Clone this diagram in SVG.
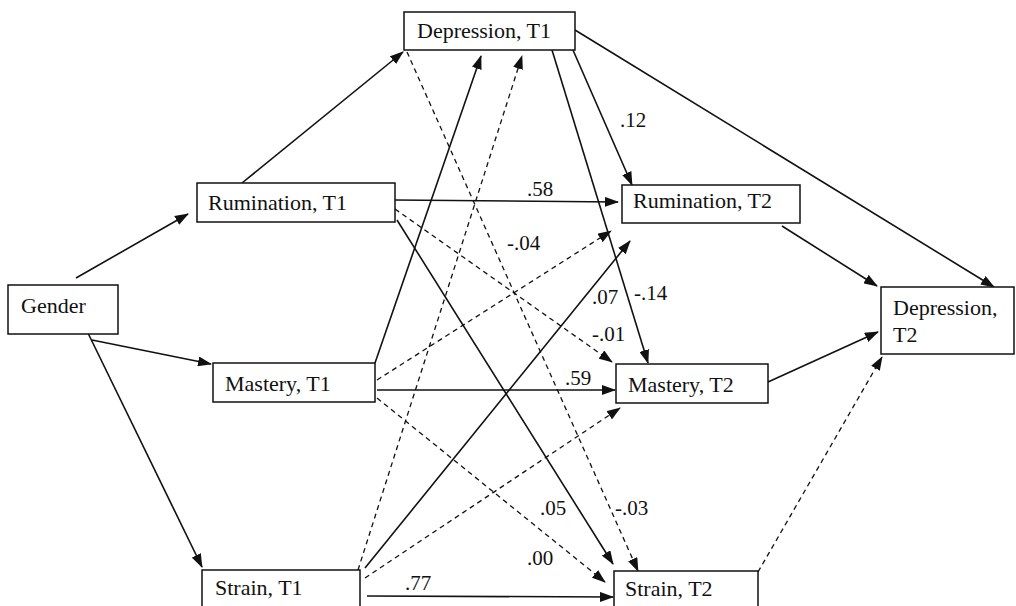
<svg xmlns="http://www.w3.org/2000/svg" width="1016" height="606" viewBox="0 0 1016 606">
<style>
.box{fill:#fff;stroke:#111;stroke-width:1.5}
.t{font-family:"Liberation Serif","Times New Roman",serif;font-size:22px;fill:#111}
.lb{font-family:"Liberation Serif","Times New Roman",serif;font-size:21px;fill:#111}
.s{fill:none;stroke:#111;stroke-width:1.6;marker-end:url(#ah)}
.d{fill:none;stroke:#111;stroke-width:1.3;stroke-dasharray:5,4;marker-end:url(#ah)}
</style>
<defs>
<marker id="ah" markerUnits="userSpaceOnUse" markerWidth="14" markerHeight="10" refX="13" refY="5" orient="auto">
<path d="M0,0 L14,5 L0,10 z" fill="#111"/>
</marker>
</defs>
<rect width="1016" height="606" fill="#fff"/>
<g id="connectors">
<line class="s" x1="76" y1="278" x2="188" y2="214"/>
<line class="s" x1="92" y1="340" x2="211" y2="364"/>
<line class="s" x1="87" y1="331" x2="202" y2="567"/>
<line class="s" x1="242" y1="183" x2="403" y2="52"/>
<line class="s" x1="575" y1="30" x2="994" y2="287"/>
<line class="s" x1="573" y1="50" x2="632" y2="185"/>
<line class="s" x1="552" y1="50" x2="648" y2="363"/>
<line class="d" x1="407" y1="52" x2="638" y2="571"/>
<line class="s" x1="375" y1="363" x2="481" y2="56"/>
<line class="d" x1="358" y1="570" x2="522" y2="56"/>
<line class="s" x1="395" y1="200" x2="618" y2="202"/>
<line class="d" x1="395" y1="209" x2="612" y2="362"/>
<line class="s" x1="397" y1="220" x2="613" y2="564"/>
<line class="d" x1="377" y1="380" x2="611" y2="231"/>
<line class="s" x1="365" y1="568" x2="630" y2="241"/>
<line class="s" x1="377" y1="390" x2="615" y2="390"/>
<line class="d" x1="377" y1="398" x2="605" y2="582"/>
<line class="d" x1="365" y1="578" x2="620" y2="408"/>
<line class="s" x1="367" y1="596" x2="613" y2="597"/>
<line class="s" x1="782" y1="226" x2="877" y2="286"/>
<line class="s" x1="768" y1="382" x2="878" y2="332"/>
<line class="d" x1="758" y1="572" x2="882" y2="357"/>
</g>
<g id="labels">
<text class="lb" x="620" y="127">.12</text>
<text class="lb" x="527" y="196">.58</text>
<text class="lb" x="507" y="250">-.04</text>
<text class="lb" x="592" y="304">.07</text>
<text class="lb" x="634" y="300">-.14</text>
<text class="lb" x="592" y="341">-.01</text>
<text class="lb" x="565" y="385">.59</text>
<text class="lb" x="540" y="515">.05</text>
<text class="lb" x="615" y="515">-.03</text>
<text class="lb" x="527" y="565">.00</text>
<text class="lb" x="405" y="590">.77</text>
</g>
<g id="dep1"><rect class="box" x="404" y="12" width="171" height="38"/><text class="t" x="417" y="38">Depression, T1</text></g>
<g id="rum1"><rect class="box" x="197" y="183" width="198" height="39"/><text class="t" x="208" y="210">Rumination, T1</text></g>
<g id="gender"><rect class="box" x="8" y="285" width="110" height="49"/><text class="t" x="21" y="313">Gender</text></g>
<g id="mas1"><rect class="box" x="213" y="363" width="162" height="39"/><text class="t" x="225" y="391">Mastery, T1</text></g>
<g id="str1"><rect class="box" x="202" y="570" width="158" height="50"/><text class="t" x="215" y="595">Strain, T1</text></g>
<g id="rum2"><rect class="box" x="622" y="185" width="178" height="38"/><text class="t" x="633" y="208">Rumination, T2</text></g>
<g id="mas2"><rect class="box" x="616" y="364" width="152" height="39"/><text class="t" x="628" y="392">Mastery, T2</text></g>
<g id="str2"><rect class="box" x="614" y="571" width="144" height="50"/><text class="t" x="625" y="596">Strain, T2</text></g>
<g id="dep2"><rect class="box" x="881" y="287" width="133" height="67"/><text class="t" x="893" y="315">Depression,</text><text class="t" x="893" y="342">T2</text></g>
</svg>
